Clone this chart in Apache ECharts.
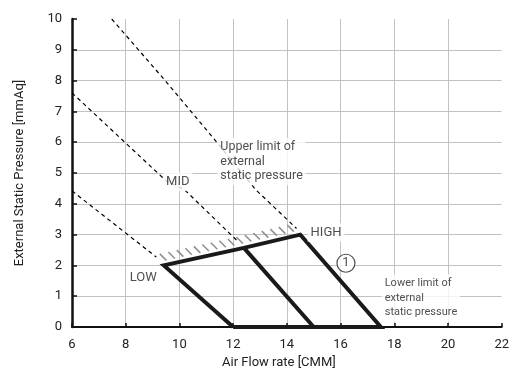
<!DOCTYPE html>
<html><head><meta charset="utf-8">
<script src="https://cdn.jsdelivr.net/npm/echarts@6/dist/echarts.min.js"></script>
<style>html,body{margin:0;padding:0;background:#fff}#c{width:512px;height:374px}</style>
</head><body><div id="c"></div>
<script>
// Fan curves (dashed)
const highFan = [[7.48,10],[9.47,8],[11.2,6.2],[12.85,4.45],[14.36,3.2]];
const midFan  = [[6,7.6],[9.5,4.75],[10.2,4.45],[12.15,2.8]];
const lowFan  = [[6,4.42],[9.14,2.27]];
// Operating range (thick)
const rangeOutline = [[12,0],[9.42,2.0],[12.4,2.57],[14.5,3.0],[17.5,0],[12,0]];
const midLine = [[12.4,2.57],[15,0]];
// Upper limit (hatched) line
const upperLimit = [[9.42,2.0],[12.4,2.57],[14.5,3.0]];
// Text annotations
const annotations = [
  {name:'LOW', value:[8.65,1.61]},
  {name:'MID', value:[9.94,4.71]},
  {name:'HIGH', value:[15.46,3.07]},
  {name:'Upper limit of\nexternal\nstatic pressure', value:[11.41,5.37]},
  {name:'Lower limit of\nexternal\nstatic pressure', value:[17.53,0.94]}
];
const circledMark = [{name:'1', value:[16.2,2.07]}];

const chart = echarts.init(document.getElementById('c'), null, {renderer:'canvas'});
const txt = '#222';
const FONT = 'Roboto, "Noto Sans", sans-serif';

const segs = [];
for (let i = 0; i < upperLimit.length - 1; i++) segs.push([upperLimit[i][0], upperLimit[i][1], upperLimit[i+1][0], upperLimit[i+1][1]]);

function dashed(data){
  return {type:'line', data, symbol:'none', silent:true, z:3,
    lineStyle:{color:'#000', width:1.2, type:[4,3.5]}};
}
function labelItem(a){
  const multi = a.name.indexOf('\n') >= 0;
  const lower = a.name.indexOf('Lower') === 0;
  return {value:a.value, name:a.name, label:{
    show:true, formatter:a.name, position: multi ? 'right' : 'inside', distance:0,
    align: multi ? 'left' : 'center', verticalAlign:'middle',
    fontFamily: FONT, fontSize: lower ? 11 : (multi ? 12.5 : 13),
    lineHeight: 14.5, color:txt, backgroundColor:'#fff', padding:[2,3,2,3]
  }};
}

chart.setOption({
  animation:false,
  textStyle:{fontFamily:FONT},
  grid:{left:72, right:8, top:19, bottom:47},
  xAxis:{type:'value', min:6, max:22, interval:2,
    name:'Air Flow rate [CMM]', nameLocation:'middle', nameGap:29,
    nameTextStyle:{color:txt, fontSize:13, fontFamily:FONT, padding:[0,16,0,0]},
    axisLine:{show:true, onZero:false, lineStyle:{color:'#111', width:2}},
    axisTick:{show:true, inside:true, length:4, lineStyle:{color:'#111', width:1.5}},
    axisLabel:{color:txt, fontSize:13, margin:11, fontFamily:FONT},
    splitLine:{show:true, showMinLine:false, showMaxLine:false, lineStyle:{color:'#c2c2c2', width:1}}
  },
  yAxis:{type:'value', min:0, max:10, interval:1,
    name:'External Static Pressure [mmAq]', nameLocation:'middle', nameGap:46,
    nameTextStyle:{color:txt, fontSize:13, fontFamily:FONT},
    axisLine:{show:true, onZero:false, lineStyle:{color:'#111', width:2.5}},
    axisTick:{show:true, inside:true, length:5, lineStyle:{color:'#111', width:1.5}},
    axisLabel:{color:txt, fontSize:13, margin:10, fontFamily:FONT},
    splitLine:{show:true, showMinLine:false, showMaxLine:false, lineStyle:{color:'#c2c2c2', width:1}}
  },
  series:[
    dashed(highFan), dashed(midFan), dashed(lowFan),
    {type:'custom', silent:true, z:2, clip:false, data:segs,
      renderItem:function(params, api){
        const g0 = api.coord(upperLimit[0])[0] + 2.5;
        const p1 = api.coord([api.value(0), api.value(1)]);
        const p2 = api.coord([api.value(2), api.value(3)]);
        const step = 8.5;
        const dx = p2[0]-p1[0], dy = p2[1]-p1[1];
        const children = [];
        let x = g0 + Math.ceil((p1[0]-g0)/step)*step;
        for (; x <= p2[0] + 0.01; x += step) {
          const by = p1[1] + (x-p1[0])/dx*dy;
          children.push({type:'line', shape:{x1:x-6.5, y1:by-11, x2:x, y2:by-4.5},
            style:{stroke:'#8e8e8e', lineWidth:1.5}});
        }
        return {type:'group', children};
      }},
    {type:'line', data:rangeOutline, symbol:'none', silent:true, z:5, clip:false,
      lineStyle:{color:'#1a1a1a', width:4, join:'miter'}},
    {type:'line', data:midLine, symbol:'none', silent:true, z:5, clip:false,
      lineStyle:{color:'#1a1a1a', width:4}},
    {type:'scatter', data:annotations.map(labelItem), symbolSize:0.1, z:6, silent:true,
      itemStyle:{color:'rgba(0,0,0,0)'}},
    {type:'scatter', data:circledMark, symbol:'circle', symbolSize:18, z:7, silent:true,
      itemStyle:{color:'#fff', borderColor:'#222', borderWidth:1.2},
      label:{show:true, position:'inside', formatter:'{b}', color:'#222', fontSize:13, fontFamily:FONT}}
  ]
});
</script></body></html>
